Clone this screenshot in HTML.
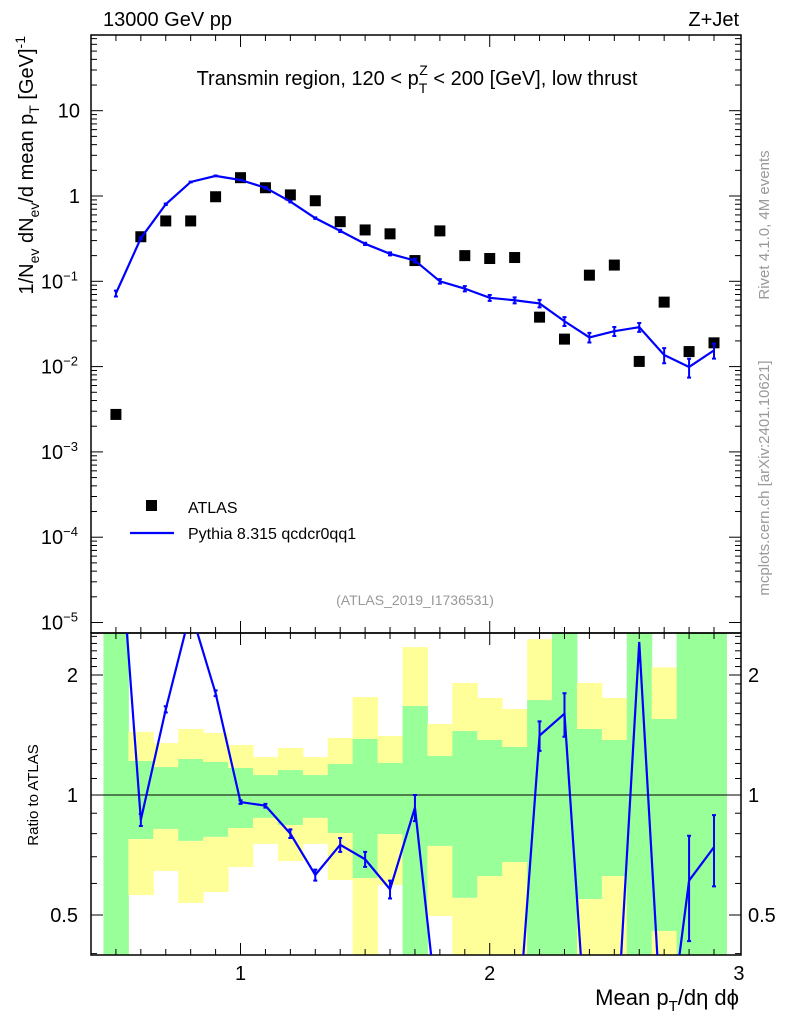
<!DOCTYPE html>
<html><head><meta charset="utf-8"><style>
html,body{margin:0;background:#fff;width:786px;height:1024px;overflow:hidden;}
svg{display:block;font-family:"Liberation Sans",sans-serif;}
</style></head><body>
<svg id="c" width="786" height="1024"></svg>
<script>
const xCenters=[0.5,0.6,0.7,0.8,0.9,1.0,1.1,1.2,1.3,1.4,1.5,1.6,1.7,1.8,1.9,2.0,2.1,2.2,2.3,2.4,2.5,2.6,2.7,2.8,2.9];
const atlasVals=[0.00275,0.333,0.51,0.51,0.98,1.64,1.25,1.03,0.88,0.5,0.40,0.36,0.175,0.39,0.2,0.185,0.19,0.038,0.021,0.118,0.155,0.0115,0.057,0.015,0.019];
const mcVals=[0.072,0.32,0.8,1.46,1.72,1.54,1.25,0.86,0.55,0.39,0.275,0.21,0.175,0.1,0.082,0.064,0.06,0.055,0.034,0.022,0.026,0.029,0.0137,0.0099,0.0155];
const mcRelErr=[0.08,0.03,0.02,0.01,0.01,0.01,0.02,0.02,0.02,0.03,0.03,0.04,0.05,0.06,0.07,0.08,0.08,0.1,0.12,0.13,0.12,0.12,0.2,0.25,0.2];
const ratioVals=[6,0.866,1.64,2.9,1.8,0.96,0.94,0.80,0.63,0.75,0.69,0.58,0.93,0.25,0.2,0.2,0.2,1.41,1.6,0.19,0.2,2.42,0.2,0.61,0.74];
const ratioErr=[0,0.03,0.03,0.03,0.03,0.01,0.01,0.02,0.02,0.03,0.03,0.03,0.07,0,0,0,0,0.12,0.2,0,0,0,0,0.18,0.15];
const yelHi=[3,1.44,1.35,1.464,1.431,1.335,1.245,1.312,1.245,1.39,1.76,1.406,2.35,1.507,1.91,1.751,1.643,2.46,3,1.91,1.751,3,2.09,3,3];
const grnHi=[3,1.217,1.175,1.231,1.21,1.169,1.122,1.155,1.122,1.196,1.382,1.203,1.672,1.253,1.447,1.374,1.32,1.73,3,1.464,1.374,3,1.551,3,3];
const grnLo=[0.3,0.775,0.822,0.767,0.785,0.826,0.876,0.841,0.876,0.803,0.619,0.798,0.3,0.745,0.552,0.626,0.679,0.3,0.3,0.548,0.626,0.3,0.456,0.3,0.3];
const yelLo=[0.3,0.561,0.645,0.536,0.571,0.66,0.754,0.683,0.754,0.612,0.3,0.595,0.3,0.497,0.3,0.3,0.3,0.3,0.3,0.3,0.3,0.3,0.3,0.3,0.3];
const xTicks=[1,2,3];
const yTicks=[1e-5,1e-4,1e-3,1e-2,0.1,1,10];
const yTickLabels=["10<tspan dy='-8' font-size='13'>−5</tspan>","10<tspan dy='-8' font-size='13'>−4</tspan>","10<tspan dy='-8' font-size='13'>−3</tspan>","10<tspan dy='-8' font-size='13'>−2</tspan>","10<tspan dy='-8' font-size='13'>−1</tspan>","1","10"];
const rTicks=[0.5,1,2];

const L=91,R=741,T=35,M=633,B=955,bw=0.1;
const X=v=>L+(v-0.4)*249.2;
const Y=v=>196-Math.log10(v)*85.3;
const RY=v=>795-Math.log2(v)*120;
const clampR=y=>Math.max(M,Math.min(B,y));
const svg=document.getElementById('c');
let h='';
function add(s){h+=s;}
for(let i=0;i<xCenters.length;i++){
 const x0=X(xCenters[i]-bw/2),x1=X(xCenters[i]+bw/2);
 const yh=clampR(RY(yelHi[i])),gh=clampR(RY(grnHi[i])),gl=clampR(RY(grnLo[i])),yl=clampR(RY(yelLo[i]));
 add(`<rect x="${x0}" y="${yh}" width="${x1-x0+0.5}" height="${gh-yh}" fill="#ffff99"/>`);
 add(`<rect x="${x0}" y="${gh}" width="${x1-x0+0.5}" height="${gl-gh}" fill="#99ff99"/>`);
 add(`<rect x="${x0}" y="${gl}" width="${x1-x0+0.5}" height="${yl-gl}" fill="#ffff99"/>`);
}
add(`<line x1="${L}" x2="${R}" y1="${RY(1)}" y2="${RY(1)}" stroke="#000" stroke-width="1"/>`);
add(`<rect x="${L}" y="${T}" width="${R-L}" height="${M-T}" fill="none" stroke="#000" stroke-width="1.5"/>`);
add(`<rect x="${L}" y="${M}" width="${R-L}" height="${B-M}" fill="none" stroke="#000" stroke-width="1.5"/>`);
for(let k=5;k<=29;k++){const v=k/10,x=X(v),maj=(k%10===0),len=maj?12:6;
 for(const [yb,yt] of [[M,T],[B,M]]){add(`<line x1="${x}" x2="${x}" y1="${yb}" y2="${yb-len}" stroke="#000"/><line x1="${x}" x2="${x}" y1="${yt}" y2="${yt+len}" stroke="#000"/>`);}
}
xTicks.forEach(v=>add(`<text x="${X(v)}" y="980" font-size="20" text-anchor="middle">${v}</text>`));
for(let e=-5;e<=1;e++){for(let m=1;m<10;m++){const v=m*Math.pow(10,e),y=Y(v);if(y<T||y>M)continue;const len=m===1?12:6;
 add(`<line x1="${L}" x2="${L+len}" y1="${y}" y2="${y}" stroke="#000"/><line x1="${R}" x2="${R-len}" y1="${y}" y2="${y}" stroke="#000"/>`);}}
yTicks.forEach((v,i)=>add(`<text x="${i<5?78:80}" y="${Y(v)+7}" font-size="20" text-anchor="end">${yTickLabels[i]}</text>`));
for(let k=4;k<=25;k++){const v=k/10,y=RY(v);if(y<M||y>B)continue;const len=(v===0.5||v===1||v===2)?12:6;
 add(`<line x1="${L}" x2="${L+len}" y1="${y}" y2="${y}" stroke="#000"/><line x1="${R}" x2="${R-len}" y1="${y}" y2="${y}" stroke="#000"/>`);}
rTicks.forEach(v=>{add(`<text x="78" y="${RY(v)+7}" font-size="20" text-anchor="end">${v}</text>`);
 add(`<text x="748" y="${RY(v)+7}" font-size="20">${v}</text>`);});
xCenters.forEach((v,i)=>{const y=Y(atlasVals[i]);add(`<rect x="${X(v)-5.5}" y="${y-5.5}" width="11" height="11" fill="#000"/>`);});
let pts=xCenters.map((v,i)=>`${X(v)},${Y(mcVals[i])}`).join(' ');
add(`<polyline points="${pts}" fill="none" stroke="#0000ff" stroke-width="2.2"/>`);
xCenters.forEach((v,i)=>{const x=X(v),y1=Y(mcVals[i]*(1+mcRelErr[i])),y2=Y(mcVals[i]*(1-mcRelErr[i]));
 add(`<path d="M${x},${y1}V${y2}M${x-2},${y1}h4M${x-2},${y2}h4" stroke="#0000ff" stroke-width="2"/>`);});
add(`<clipPath id="rc"><rect x="${L}" y="${M}" width="${R-L}" height="${B-M}"/></clipPath>`);
let rp=xCenters.map((v,i)=>`${X(v)},${RY(ratioVals[i])}`).join(' ');
add(`<g clip-path="url(#rc)"><polyline points="${rp}" fill="none" stroke="#0000ff" stroke-width="2.2"/>`);
xCenters.forEach((v,i)=>{if(!ratioErr[i])return;const x=X(v),y1=RY(ratioVals[i]+ratioErr[i]),y2=RY(ratioVals[i]-ratioErr[i]);
 add(`<path d="M${x},${y1}V${y2}M${x-2},${y1}h4M${x-2},${y2}h4" stroke="#0000ff" stroke-width="2"/>`);});
add(`</g>`);
add(`<text x="103" y="26" font-size="20">13000 GeV pp</text>`);
add(`<text x="739" y="26" font-size="20" text-anchor="end">Z+Jet</text>`);
add(`<text x="417" y="85" font-size="20" text-anchor="middle">Transmin region, 120 &lt; p<tspan dy="8" font-size="14">T</tspan><tspan dy="-18" dx="-8" font-size="14">Z</tspan><tspan dy="10"> &lt; 200 [GeV], low thrust</tspan></text>`);
add(`<text x="415" y="605" font-size="14" fill="#999" text-anchor="middle">(ATLAS_2019_I1736531)</text>`);
add(`<rect x="146" y="500" width="11" height="11" fill="#000"/>`);
add(`<text x="188" y="513" font-size="16">ATLAS</text>`);
add(`<line x1="130" x2="174" y1="533" y2="533" stroke="#0000ff" stroke-width="2.2"/>`);
add(`<text x="188" y="539" font-size="16">Pythia 8.315 qcdcr0qq1</text>`);
add(`<text transform="translate(769,225) rotate(-90)" font-size="15" fill="#999" text-anchor="middle">Rivet 4.1.0,  4M events</text>`);
add(`<text transform="translate(769,478) rotate(-90)" font-size="15" fill="#999" text-anchor="middle">mcplots.cern.ch [arXiv:2401.10621]</text>`);
add(`<text transform="translate(33,36) rotate(-90)" font-size="20" text-anchor="end">1/N<tspan dy="6" font-size="14">ev</tspan><tspan dy="-6"> dN</tspan><tspan dy="6" font-size="14">ev</tspan><tspan dy="-6">/d mean p</tspan><tspan dy="6" font-size="14">T</tspan><tspan dy="-6"> [GeV]</tspan><tspan dy="-8" font-size="14">-1</tspan></text>`);
add(`<text transform="translate(38,795) rotate(-90)" font-size="15" text-anchor="middle">Ratio to ATLAS</text>`);
add(`<text x="739" y="1005" font-size="22" text-anchor="end">Mean p<tspan dy="6" font-size="15">T</tspan><tspan dy="-6">/dη dϕ</tspan></text>`);
svg.innerHTML=h;
</script>
</body></html>
